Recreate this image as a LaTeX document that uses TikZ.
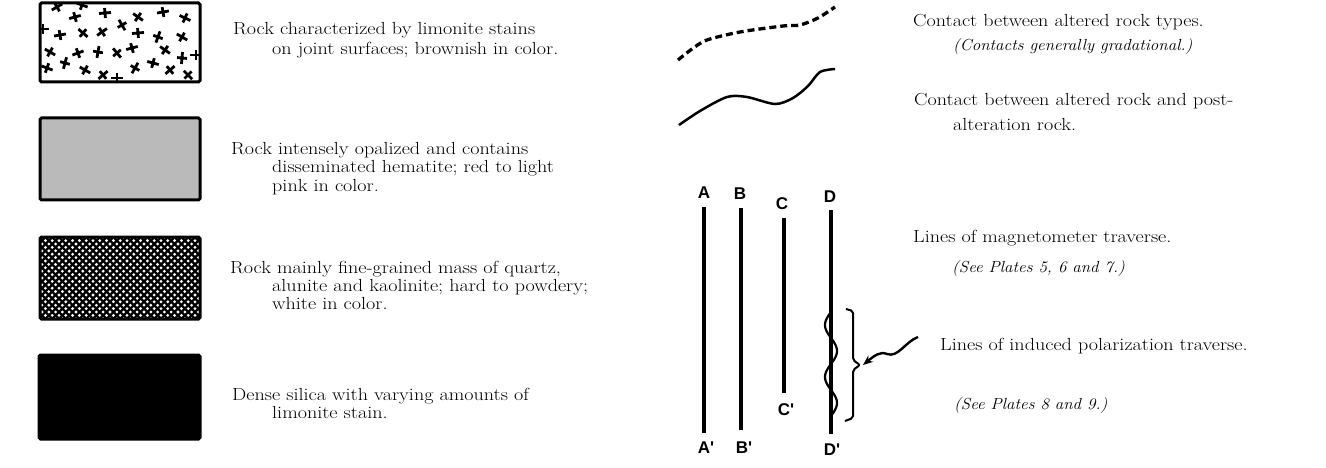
\documentclass[tikz,border=0pt]{standalone}
\usepackage{fontspec}
\usepackage{graphicx}
\newfontfamily\helv{Liberation Sans}
\usetikzlibrary{arrows.meta}
\tikzset{
  legbox/.style={line width=3pt, rounded corners=1.5pt},
  txt/.style={anchor=base west, inner sep=0pt, font=\fontsize{17.5}{20}\selectfont\addfontfeatures{FakeBold=0.35}},
  note/.style={anchor=base west, inner sep=0pt, font=\fontsize{16}{18}\selectfont\itshape\addfontfeatures{FakeBold=0.3}},
  lbl/.style={font=\helv\bfseries\fontsize{17}{17}\selectfont, inner sep=0pt},
  stain/.style={line width=2.8pt},
}
\newcommand{\wide}[1]{\scalebox{1.15}[1]{#1}}
\newcommand{\iwide}[1]{\scalebox{1.06}[1]{#1}}
\begin{document}
\begin{tikzpicture}[x=1pt,y=-1pt]
\useasboundingbox (0,0) rectangle (1326,468);
\fill[white] (0,0) rectangle (1326,468);

% ---- box 1: limonite stains
\begin{scope}
  \clip (40,3) rectangle (200,82);
  \foreach \px/\py/\a in {57/7/30,82/5/-20,75/17/15,105/13/5,138/17/-35,163/12/10,185/18/-25,
     43/29/0,60/35/10,83/33/-40,102/32/35,122/25/-60,138/33/5,158/37/70,182/37/-30,
     50/52/-30,78/53/20,98/52/80,117/53/-50,132/48/15,165/50/-35,182/58/85,
     65/63/75,47/68/-20,85/70/-30,103/75/40,117/78/0,135/68/60,153/63/-15,170/70/40,188/75/-45,196/55/0}
  { \begin{scope}[shift={(\px,\py)}, rotate=\a]
      \draw[stain] (-6,0) -- (6,0) (0,-5) -- (0,5);
    \end{scope} }
\end{scope}
\draw[legbox] (40,3) rectangle (200,82);

% ---- box 2: opalized
\draw[legbox, fill=black!27] (40,118) rectangle (200,200);

% ---- box 3: quartz alunite kaolinite
\begin{scope}
  \clip (40,237) rectangle (200,319);
  \foreach \i in {-50,-43.2,...,210}
  { \draw[line width=2.3pt] (\i,237) -- (\i+82,319);
    \draw[line width=2.3pt] (\i,319) -- (\i+82,237); }
\end{scope}
\draw[legbox] (40,237) rectangle (200,319);

% ---- box 4: dense silica
\draw[legbox, fill=black] (39,355) rectangle (200,439);

% ---- left texts
\node[txt] (t1a) at (233,35) {\wide{Rock characterized by limonite stains}};
\node[txt] (t1b) at (272,55) {\wide{on joint surfaces; brownish in color.}};
\node[txt] (t2a) at (231,155) {\wide{Rock intensely opalized and contains}};
\node[txt] (t2b) at (272,173) {\wide{disseminated hematite; red to light}};
\node[txt] (t2c) at (272,191) {\wide{pink in color.}};
\node[txt] (t3a) at (230,273) {\wide{Rock mainly fine-grained mass of quartz,}};
\node[txt] (t3b) at (272,291) {\wide{alunite and kaolinite; hard to powdery;}};
\node[txt] (t3c) at (272,309) {\wide{white in color.}};
\node[txt] (t4a) at (232,400) {\wide{Dense silica with varying amounts of}};
\node[txt] (t4b) at (272,418) {\wide{limonite stain.}};

% ---- contacts
\draw[line width=3.3pt, dash pattern=on 7pt off 4pt]
  plot[smooth] coordinates {(678,60) (692,49) (707,40) (740,32) (783,26) (800,25) (818,18) (835,7)};
\draw[line width=2.5pt]
  plot[smooth] coordinates {(679,125) (700,111) (727,97) (747,97) (775,104) (793,98) (808,86) (820,72) (835,69)};

\node[txt] (r1a) at (913,27) {\wide{Contact between altered rock types.}};
\node[note] (r1b) at (953,51) {\iwide{(Contacts generally gradational.)}};
\node[txt] (r2a) at (914,106) {\wide{Contact between altered rock and post-}};
\node[txt] (r2b) at (953,131) {\wide{alteration rock.}};

% ---- traverse lines
\node[lbl] (A) at (704,193) {A};
\node[lbl] (B) at (740,194) {B};
\node[lbl] (C) at (782,204) {C};
\node[lbl] (D) at (830,197) {D};
\node[lbl] (A2) at (706,448) {A'};
\node[lbl] (B2) at (744,448) {B'};
\node[lbl] (C2) at (786,410) {C'};
\node[lbl] (D2) at (832,450) {D'};
\coordinate (a1) at (704,207); \coordinate (a2) at (704,433);
\coordinate (b1) at (741,208); \coordinate (b2) at (741,430);
\coordinate (c1) at (784,218); \coordinate (c2) at (784,393);
\coordinate (d1) at (831,210); \coordinate (d2) at (831,434);
\draw[line width=4.5pt] (a1) -- (a2);
\draw[line width=4pt] (b1) -- (b2);
\draw[line width=3.5pt] (c1) -- (c2);
\draw[line width=3.5pt] (d1) -- (d2);
% induced polarization wave
\draw[line width=2.2pt] plot[variable=\t, domain=0:720, samples=73, smooth] ({831-6*sin(\t)}, {312+\t*0.1444});
% brace
\coordinate (bt) at (860,365);
\draw[line width=2pt, rounded corners=2pt] (846,309) -- (853,311) -- (853,360) -- (bt) -- (853,370) -- (853,418) -- (845,421);
\coordinate (tail) at (918,337);
\draw[line width=2.4pt, -{Stealth[length=10pt,width=8pt]}] (tail) .. controls (905,342) and (898,358) .. (887,354) .. controls (880,351) and (874,356) .. ([xshift=3pt]bt);

\node[txt] (r3a) at (913,242) {\wide{Lines of magnetometer traverse.}};
\node[note] (r3b) at (952,272) {\iwide{(See Plates 5, 6 and 7.)}};
\node[txt] (r4a) at (940,350) {\wide{Lines of induced polarization traverse.}};
\node[note] (r4b) at (954,409) {\iwide{(See Plates 8 and 9.)}};
\end{tikzpicture}
\end{document}
